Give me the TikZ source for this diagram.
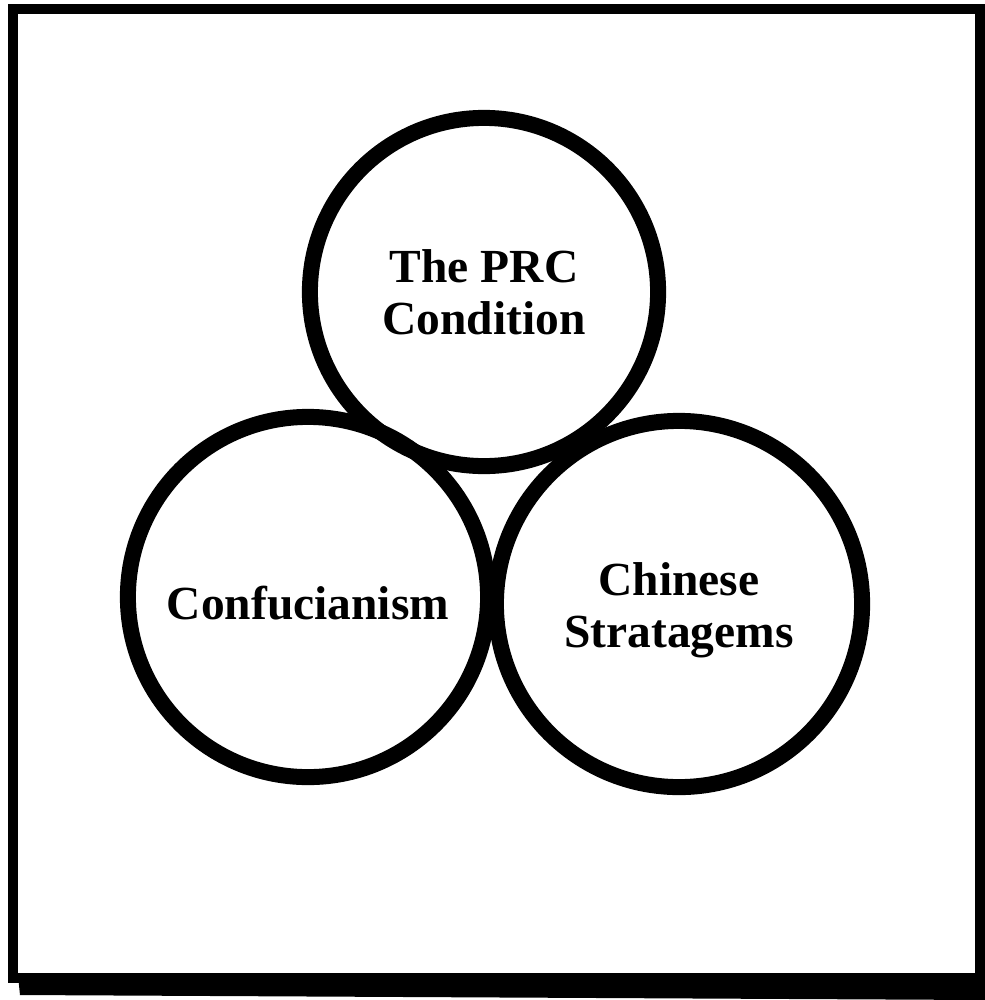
\documentclass[tikz,border=0pt]{standalone}
\usepackage{fontspec}
\setmainfont{Liberation Serif}
\usepackage{tikz}

\tikzset{
    ring/.style={circle, draw=black, line width=0.16cm, inner sep=0pt,
        align=center, font=\bfseries\fontsize{13.5}{14.8}\selectfont}
}

\begin{document}
\begin{tikzpicture}[x=0.01cm, y=-0.01cm]
        \useasboundingbox (0,0) rectangle (985,1000);

        % Draw the outer frame with its heavier bottom edge
        \draw[line width=0.10cm] (13,9) rectangle (980,978);
        \fill[black] (18,975) -- (985,981) -- (985,1000) -- (20,995) -- cycle;

        % Draw the three overlapping circles
        \node[ring, minimum size=3.48cm] (prc) at (484,292) {The PRC\\Condition};
        \node[ring, minimum size=3.60cm, text height=0.46cm] (conf) at (308,597) {Confucianism};
        \node[ring, minimum size=3.66cm, text height=0.98cm] (strat) at (679,604) {Chinese\\Stratagems};
    \end{tikzpicture}
\end{document}
